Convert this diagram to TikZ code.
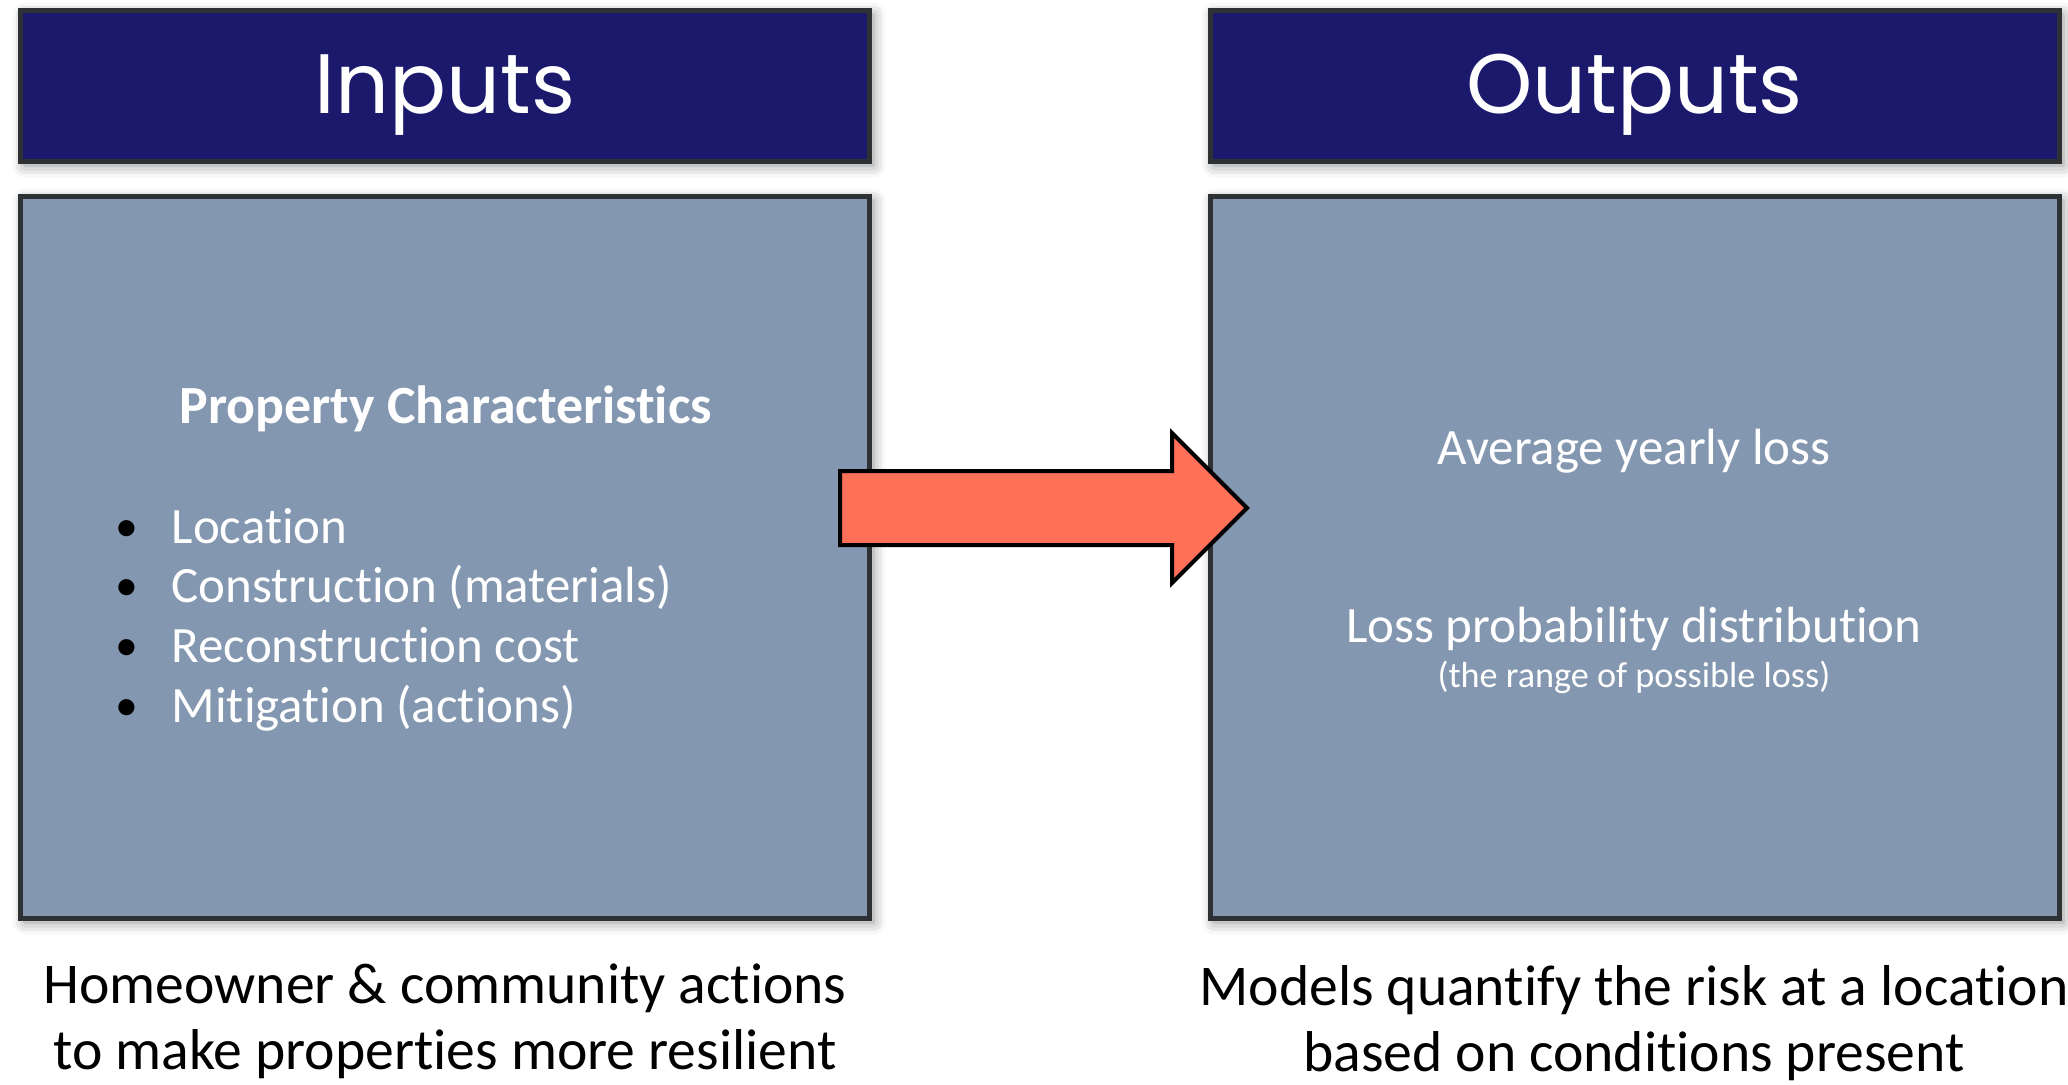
\documentclass[tikz,border=0pt]{standalone}
\usepackage{fontspec}
\setmainfont{Carlito}[Ligatures=NoCommon]
\newfontfamily\headfont{Poppins}
\usetikzlibrary{positioning,shapes.arrows,shadows.blur}
\definecolor{navy}{HTML}{1B196C}
\definecolor{slate}{HTML}{8497B0}
\definecolor{salmon}{HTML}{FF7058}
\definecolor{frame}{HTML}{2E3133}

\begin{document}
\begin{tikzpicture}[x=0.1mm,y=-0.1mm,
		title box/.style={rectangle,draw=frame,line width=0.5mm,fill=navy,
			minimum width=84.9mm,minimum height=15.1mm,text=white,
			font=\headfont\fontsize{24}{28}\selectfont,text height=6mm,text depth=0.6mm,
			blur shadow={shadow xshift=0.4mm,shadow yshift=-0.4mm,shadow blur radius=1.2mm,shadow opacity=45}},
		body box/.style={rectangle,draw=frame,line width=0.5mm,fill=slate,
			minimum width=84.9mm,minimum height=72.2mm,
			blur shadow={shadow xshift=0.4mm,shadow yshift=-0.4mm,shadow blur radius=1.2mm,shadow opacity=45}},
		in text/.style={text=white,font=\fontsize{14.5}{17}\selectfont,anchor=base,inner sep=0pt},
		caption/.style={font=\fontsize{16.4}{19}\selectfont,anchor=base,inner sep=0pt},
		flow arrow/.style={single arrow,draw=black,line width=0.4mm,fill=salmon,
			minimum height=40.7mm,minimum width=14.6mm,single arrow head extend=3.8mm,
			inner sep=0pt,text height=3.5mm,text depth=3.5mm}]
	
	\useasboundingbox (0,0) rectangle (2068,1084);
	
	% headers
	\node[title box] (inhead) at (445,86) {Inputs};
	\node[title box] (outhead) at (1634.5,86) {Outputs};
	
	% main boxes
	\node[body box] (inbody) at (445,557.5) {};
	\node[body box] (outbody) at (1634.5,557.5) {};
	
	% inputs
	\node[in text,font=\fontsize{15.3}{18}\bfseries] (prop) at (446,423) {Property Characteristics};
	\foreach \txt [count=\i] in {Location,Construction (materials),Reconstruction cost,Mitigation (actions)}{
		\node[in text,text=black,font=\fontsize{13}{17}\selectfont] (dot\i) at (127,541+59.7*\i-59.7) {•};
		\node[in text,anchor=base west] (item\i) at (171,543+59.7*\i-59.7) {\txt};
	}
	
	% outputs
	\node[in text] (avg) at (1634,464) {Average yearly loss};
	\node[in text] (dist) at (1634,642) {Loss probability distribution};
	\node[in text,font=\fontsize{10.3}{12}\selectfont] (range) at (1634,687) {(the range of possible loss)};
	
	% captions
	\node[caption] (incap1) at (445,1003) {Homeowner \& community actions};
	\node[caption] (incap2) at (445,1069) {to make properties more resilient};
	\node[caption] (outcap1) at (1634,1005) {Models quantify the risk at a location};
	\node[caption] (outcap2) at (1634,1071) {based on conditions present};
	
	% arrow
	\node[flow arrow,anchor=tail] (flow) at (838,508) {};
\end{tikzpicture}
\end{document}
